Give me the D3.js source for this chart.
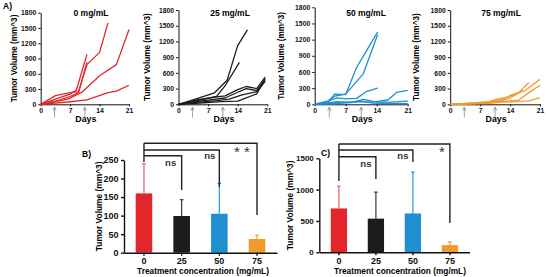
<!DOCTYPE html>
<html><head><meta charset="utf-8">
<script src="https://cdn.jsdelivr.net/npm/d3@7"></script>
<style>
body{margin:0;background:#fff;}
svg{display:block;font-family:"Liberation Sans",Arial,sans-serif;font-weight:bold;}
</style></head>
<body><svg id="c" width="546" height="277"></svg>
<script>
// ---------- DATA ----------
const groupNames = ["0 mg/mL","25 mg/mL","50 mg/mL","75 mg/mL"];
const dayTicks = [0,7,14,21];
const volTicks = [0,300,600,900,1200,1500,1800];
const doseDays = [3.3,10.5];

const ctrlDays = [[0,3.5,7,9,11,14,16],[0,3.5,7,8.5,11],[0,3.5,7,9,11],[0,6.5,10,14,18,21],[0,6.5,11,16,18,21]];
const ctrlVols = [[0,170,230,250,780,1020,1600],[0,100,200,280,980],[0,60,150,230,830],[0,100,250,560,780,1470],[0,45,85,230,260,375]];

const d25Days = [[0,4,8.5,11.5,14,16.3],[0,4,9,11,14.4],[0,4,8,11,14,16,18.5,20.5],[0,4,8,11,14,16,18.5,20.5],[0,5,9,12,15,18.5,20.5],[0,6,10,14,18.5,20.5]];
const d25Vols = [[0,100,220,460,1120,1420],[0,60,150,350,800],[0,80,130,160,280,340,300,520],[0,50,90,120,230,300,260,470],[0,40,70,100,180,240,440],[0,30,50,60,200,490]];

const d50Days = [[0,3,4.5,7,9.5,14.2],[0,3,4.5,7,11,14.2],[0,3,5,7,9.5,11.5,14.2],[0,4,7,10,13,16.5,18.5,21],[0,4,8,11,14,17,21],[0,5,8,10.5,13,21]];
const d50Vols = [[0,40,190,180,690,1340],[0,60,150,190,570,1290],[0,60,120,100,110,230,300],[0,20,40,50,40,80,220,260],[0,10,30,90,40,40,60],[0,50,30,60,20,10]];

const d75Days = [[0,5,9,12,14.5,17.6,21],[0,5,9,12,16,18.4,21],[0,5,9,11,13.7,16,18.4],[0,5,9,12,16,18.4,21],[0,5,9,12,14,17]];
const d75Vols = [[0,20,40,90,185,268,480],[0,15,30,50,77,223,365],[0,25,50,100,140,223,415],[0,10,20,40,50,65,128],[0,15,35,70,120,260]];

const concCats = ["0","25","50","75"];
const meanB = [160,99,105,37];
const errB  = [240,143,187,47];
const meanC = [700,537,620,115];
const errC  = [1055,960,1280,165];
const sigLabelsB = ["ns","ns","* *"];
const sigLabelsC = ["ns","ns","*"];
const bTicks = [0,50,100,150,200,250];
const cTicks = [0,500,1000,1500];

// ---------- STYLE ----------
const colors = ["#e3262b","#1c1c1c","#1f8fd2","#f39a2e"];
const errColors = ["#ef5a5a","#333333","#2b96d6","#f39a2e"];
const svg = d3.select("#c");
const fmt = d3.format("d");

// ---------- TOP PANELS ----------
const panels = [
  {x0:40.7,x1:129,top:12.7,lab:14,title:91},
  {x0:178.5,x1:267.3,top:10,lab:147,title:230},
  {x0:314.7,x1:407.7,top:7.3,lab:281,title:366},
  {x0:450.2,x1:540,top:10,lab:416,title:501}
];
const allDays=[ctrlDays,d25Days,d50Days,d75Days];
const allVols=[ctrlVols,d25Vols,d50Vols,d75Vols];
const bottom=104.3;

svg.append("text").attr("x",3).attr("y",9).attr("font-size",8.5).text("A)");

panels.forEach((p,i)=>{
  const x=d3.scaleLinear().domain([0,21]).range([p.x0,p.x1]);
  const y=d3.scaleLinear().domain([0,1800]).range([bottom,p.top]);
  const g=svg.append("g");
  const ya=g.append("g").attr("transform",`translate(${p.x0},0)`)
    .call(d3.axisLeft(y).tickValues(volTicks).tickFormat(fmt).tickSize(2.5).tickSizeOuter(0).tickPadding(2));
  const xa=g.append("g").attr("transform",`translate(0,${bottom})`)
    .call(d3.axisBottom(x).tickValues(dayTicks).tickFormat(fmt).tickSize(2).tickSizeOuter(0).tickPadding(1.5));
  [ya,xa].forEach(a=>{a.selectAll("text").attr("font-size",6.8).attr("font-weight","bold").attr("font-family","Liberation Sans, Arial").attr("fill","#111");
    a.selectAll("path,line").attr("stroke","#111").attr("stroke-width",1);});
  // lines
  const line=d3.line().x(d=>x(d[0])).y(d=>y(d[1]));
  allDays[i].forEach((dd,k)=>{
    const pts=dd.map((d,j)=>[d,allVols[i][k][j]]);
    g.append("path").attr("d",line(pts)).attr("fill","none").attr("stroke",colors[i]).attr("stroke-width",1.3).attr("stroke-linejoin","round");
  });
  // dose arrows
  doseDays.forEach(dd=>{
    const ax=x(dd);
    g.append("line").attr("x1",ax).attr("x2",ax).attr("y1",108).attr("y2",117.5).attr("stroke","#888").attr("stroke-width",0.8);
    g.append("path").attr("d",`M${ax-1.6},110.5 L${ax},107 L${ax+1.6},110.5`).attr("fill","none").attr("stroke","#888").attr("stroke-width",0.8);
  });
  g.append("text").attr("x",(p.x0+p.x1)/2+1).attr("y",121.5).attr("text-anchor","middle").attr("font-size",8.8).text("Days");
  g.append("text").attr("x",p.title).attr("y",16).attr("text-anchor","middle").attr("font-size",8.5).text(groupNames[i]);
  g.append("text").attr("transform",`translate(${p.lab+3},${(bottom+p.top)/2}) rotate(-90)`).attr("text-anchor","middle").attr("font-size",8.2).text("Tumor Volume (mm^3)");
});

// ---------- BAR PANELS ----------
function barPanel(cfg){
  const x=d3.scaleBand().domain(concCats).range([cfg.xl,cfg.xr]).paddingInner(0.56).paddingOuter(0.31);
  const y=d3.scaleLinear().domain([0,cfg.ymax]).range([cfg.yb,cfg.yt]);
  const g=svg.append("g");
  // bars
  g.selectAll("rect.b").data(cfg.mean).join("rect")
    .attr("x",(d,i)=>x(concCats[i])).attr("width",x.bandwidth())
    .attr("y",d=>y(d)).attr("height",d=>y(0)-y(d)).attr("fill",(d,i)=>colors[i]);
  // error bars
  cfg.err.forEach((e,i)=>{
    const cx=x(concCats[i])+x.bandwidth()/2;
    g.append("line").attr("x1",cx).attr("x2",cx).attr("y1",y(cfg.mean[i])).attr("y2",y(e)).attr("stroke",errColors[i]).attr("stroke-width",1.2);
    g.append("line").attr("x1",cx-1.8).attr("x2",cx+1.8).attr("y1",y(e)).attr("y2",y(e)).attr("stroke",errColors[i]).attr("stroke-width",1.2);
  });
  const ya=g.append("g").attr("transform",`translate(${cfg.xl},0)`)
    .call(d3.axisLeft(y).tickValues(cfg.ticks).tickFormat(fmt).tickSize(3).tickSizeOuter(0).tickPadding(2.5));
  const xa=g.append("g").attr("transform",`translate(0,${cfg.yb})`)
    .call(d3.axisBottom(x).tickSize(3).tickSizeOuter(0).tickPadding(2));
  [ya,xa].forEach(a=>{a.selectAll("text").attr("font-size",cfg.fs).attr("font-weight","bold").attr("font-family","Liberation Sans, Arial").attr("fill","#111");
    a.selectAll("path,line").attr("stroke","#111").attr("stroke-width",1.4);});
  xa.selectAll("text").attr("font-size",9);
  // brackets
  const c=i=>x(concCats[i])+x.bandwidth()/2;
  const bs="#222";
  g.append("line").attr("x1",c(0)).attr("x2",c(0)).attr("y1",cfg.br[0]).attr("y2",cfg.leftEnd).attr("stroke",bs).attr("stroke-width",1.4);
  [1,2,3].forEach((k,j)=>{
    const yy=cfg.br[3-k];
    g.append("path").attr("d",`M${c(0)},${yy} H${c(k)} V${cfg.drops[j]}`).attr("fill","none").attr("stroke",bs).attr("stroke-width",1.4);
    g.append("text").attr("x",c(k)+cfg.lblDx[j]).attr("y",cfg.lblY[j]).attr("text-anchor","middle")
      .attr("font-size",j===2?cfg.starFs:9.5).attr("font-weight",j===2?"normal":"bold").attr("fill","#333").text(cfg.labels[j]);
  });
  g.append("text").attr("x",cfg.tagX).attr("y",cfg.tagY).attr("font-size",8.5).text(cfg.tag);
  g.append("text").attr("transform",`translate(${cfg.ylabX},${(cfg.yb+cfg.yt)/2}) rotate(-90)`).attr("text-anchor","middle").attr("font-size",8.4).text("Tumor Volume (mm^3)");
  g.append("text").attr("x",cfg.xtitle).attr("y",274).attr("text-anchor","middle").attr("font-size",8.3).text("Treatment concentration (mg/mL)");
}

barPanel({xl:124,xr:277,yt:160,yb:252.7,ymax:250,ticks:bTicks,mean:meanB,err:errB,fs:9,
  br:[143.3,150,155.7],leftEnd:162,drops:[190,187,215],labels:sigLabelsB,
  lblDx:[-11,-9.5,-15],lblY:[166,159,157],starFs:15,tag:"B)",tagX:82,tagY:157,ylabX:102,xtitle:203});
barPanel({xl:319.3,xr:469.5,yt:158.3,yb:252.3,ymax:1500,ticks:cTicks,mean:meanC,err:errC,fs:8,
  br:[144,150,156.7],leftEnd:181,drops:[179,162,223],labels:sigLabelsC,
  lblDx:[-10,-10,-8],lblY:[166.5,159,157],starFs:15,tag:"C)",tagX:321,tagY:156,ylabX:293,xtitle:400});
</script></body></html>
